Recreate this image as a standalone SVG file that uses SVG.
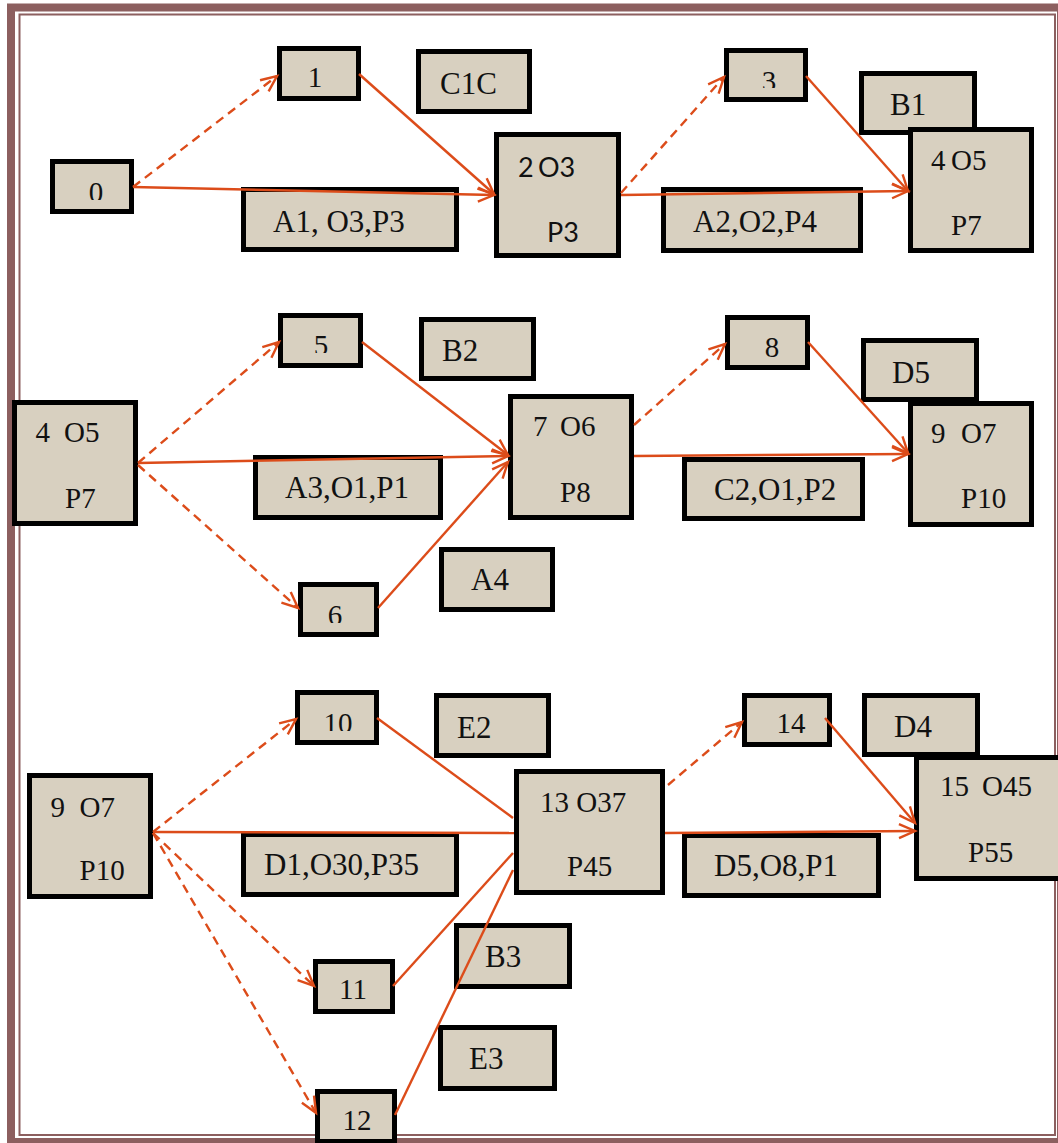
<svg xmlns="http://www.w3.org/2000/svg" width="1058" height="1143" viewBox="0 0 1058 1143">
<style>
.box{fill:#D8D0C0;stroke:#000;stroke-width:5}
.t{font-family:"Liberation Serif","Times New Roman",serif;fill:#111}
.n{font-size:29px}
.l{font-size:31px}
.s{font-family:Lato,"Open Sans","Liberation Sans",sans-serif;font-size:27px;fill:#111}
.c{fill:none;stroke:#DC4C1A;stroke-width:2.4}
.d{stroke-dasharray:9 6}
.a{marker-end:url(#ah)}
.frame{fill:none;stroke:#8C5F5F}
</style>
<defs>
<marker id="ah" viewBox="-18 -10 20 20" markerWidth="20" markerHeight="20" refX="0" refY="0" orient="auto" markerUnits="userSpaceOnUse" overflow="visible">
<path d="M-16,-7 L0,0 L-16,7" fill="none" stroke="#DC4C1A" stroke-width="2.4"/>
</marker>
<clipPath id="c0"><rect x="55" y="164" width="74" height="36"/></clipPath>
<clipPath id="c3"><rect x="729" y="53" width="74" height="35"/></clipPath>
<clipPath id="c5"><rect x="283" y="318" width="75" height="35"/></clipPath>
<clipPath id="c6"><rect x="303" y="587" width="71" height="36"/></clipPath>
<clipPath id="c10"><rect x="300" y="695" width="74" height="36"/></clipPath>
</defs>
<rect width="1058" height="1143" fill="#fff"/>
<g id="frame">
<rect class="frame" x="11" y="7.5" width="1050" height="1134.5" stroke-width="8"/>
<rect class="frame" x="19.5" y="14.5" width="1035.5" height="1120.5" stroke-width="2"/>
</g>
<g id="labels">
<g id="lbl-C1C"><rect class="box" x="418.5" y="51.5" width="111" height="60"/><text class="t l" x="440" y="94">C1C</text></g>
<g id="lbl-A1"><rect class="box" x="243.5" y="189.5" width="213" height="60"/><text class="t l" x="273" y="232">A1, O3,P3</text></g>
<g id="lbl-B1"><rect class="box" x="861.5" y="73.5" width="113" height="59"/><text class="t l" x="890" y="115">B1</text></g>
<g id="lbl-A2"><rect class="box" x="663.5" y="189.5" width="197" height="61"/><text class="t l" x="693" y="232">A2,O2,P4</text></g>
<g id="lbl-B2"><rect class="box" x="421.5" y="319.5" width="112" height="59"/><text class="t l" x="442" y="361">B2</text></g>
<g id="lbl-A3"><rect class="box" x="255.5" y="457.5" width="185" height="60"/><text class="t l" x="285" y="498">A3,O1,P1</text></g>
<g id="lbl-A4"><rect class="box" x="441.5" y="549.5" width="111" height="60"/><text class="t l" x="471" y="590">A4</text></g>
<g id="lbl-D5"><rect class="box" x="863.5" y="340.5" width="113" height="59"/><text class="t l" x="892" y="383">D5</text></g>
<g id="lbl-C2"><rect class="box" x="684.5" y="459.5" width="178" height="59"/><text class="t l" x="714" y="500">C2,O1,P2</text></g>
<g id="lbl-E2"><rect class="box" x="436.5" y="695.5" width="112" height="60"/><text class="t l" x="457" y="738">E2</text></g>
<g id="lbl-D1"><rect class="box" x="243.5" y="834.5" width="213" height="60"/><text class="t l" x="264" y="875">D1,O30,P35</text></g>
<g id="lbl-B3"><rect class="box" x="456.5" y="925.5" width="113" height="61"/><text class="t l" x="485" y="967">B3</text></g>
<g id="lbl-E3"><rect class="box" x="440.5" y="1027.5" width="114" height="61"/><text class="t l" x="469" y="1069">E3</text></g>
<g id="lbl-D4"><rect class="box" x="864.5" y="695.5" width="113" height="59"/><text class="t l" x="894" y="737">D4</text></g>
<g id="lbl-D5b"><rect class="box" x="684.5" y="835.5" width="194" height="60"/><text class="t l" x="714" y="876">D5,O8,P1</text></g>
</g>
<g id="nodes">
<g id="n0"><rect class="box" x="52.5" y="161.5" width="79" height="50"/><text class="t n" x="96" y="202" text-anchor="middle" clip-path="url(#c0)">0</text></g>
<g id="n1"><rect class="box" x="279.5" y="48.5" width="79" height="50"/><text class="t n" x="315" y="87" text-anchor="middle">1</text></g>
<g id="n2"><rect class="box" x="496.5" y="134.5" width="122" height="121"/><text class="s" y="177"><tspan x="518">2</tspan><tspan x="538">O3</tspan></text><text class="s" x="547" y="242">P3</text></g>
<g id="n3"><rect class="box" x="726.5" y="50.5" width="79" height="49"/><text class="t n" x="769" y="91" text-anchor="middle" clip-path="url(#c3)">3</text></g>
<g id="n4"><rect class="box" x="910.5" y="129.5" width="121" height="121"/><text class="t n" y="170"><tspan x="931">4</tspan><tspan x="951">O5</tspan></text><text class="t n" x="951" y="235">P7</text></g>
<g id="n4b"><rect class="box" x="14.5" y="402.5" width="121" height="121"/><text class="t n" y="442"><tspan x="35.5">4</tspan><tspan x="64">O5</tspan></text><text class="t n" x="65" y="508">P7</text></g>
<g id="n5"><rect class="box" x="280.5" y="315.5" width="80" height="50"/><text class="t n" x="321" y="355" text-anchor="middle" clip-path="url(#c5)">5</text></g>
<g id="n6"><rect class="box" x="300.5" y="584.5" width="76" height="50"/><text class="t n" x="335" y="625" text-anchor="middle" clip-path="url(#c6)">6</text></g>
<g id="n7"><rect class="box" x="510.5" y="396.5" width="121" height="121"/><text class="t n" y="436"><tspan x="533">7</tspan><tspan x="560">O6</tspan></text><text class="t n" x="560" y="502">P8</text></g>
<g id="n8"><rect class="box" x="727.5" y="317.5" width="80" height="50"/><text class="t n" x="772" y="357" text-anchor="middle">8</text></g>
<g id="n9"><rect class="box" x="910.5" y="403.5" width="121" height="121"/><text class="t n" y="443"><tspan x="931">9</tspan><tspan x="961">O7</tspan></text><text class="t n" x="961" y="508">P10</text></g>
<g id="n9b"><rect class="box" x="29.5" y="775.5" width="121" height="121"/><text class="t n" y="817"><tspan x="50.5">9</tspan><tspan x="79.5">O7</tspan></text><text class="t n" x="79.5" y="880">P10</text></g>
<g id="n10"><rect class="box" x="297.5" y="692.5" width="79" height="50"/><text class="t n" x="338" y="733" text-anchor="middle" clip-path="url(#c10)">10</text></g>
<g id="n11"><rect class="box" x="315.5" y="961.5" width="77" height="50"/><text class="t n" x="353" y="999" text-anchor="middle">11</text></g>
<g id="n12"><rect class="box" x="317.5" y="1091.5" width="77" height="50"/><text class="t n" x="357" y="1130" text-anchor="middle">12</text></g>
<g id="n13"><rect class="box" x="516.5" y="771.5" width="146" height="121"/><text class="t n" x="540" y="812">13 O37</text><text class="t n" x="567" y="876">P45</text></g>
<g id="n14"><rect class="box" x="744.5" y="695.5" width="85" height="49"/><text class="t n" x="791" y="733" text-anchor="middle">14</text></g>
<g id="n15"><rect class="box" x="916.5" y="757.5" width="147" height="121"/><text class="t n" y="796"><tspan x="940">15</tspan><tspan x="982">O45</tspan></text><text class="t n" x="968" y="862">P55</text></g>
</g>
<g id="connectors">
<path class="c d a" d="M133,187 L277,76"/>
<path class="c a" d="M133,187 L494,195"/>
<path class="c a" d="M359,74 L494,194"/>
<path class="c d a" d="M621,193 L724,77"/>
<path class="c a" d="M621,195 L908,191"/>
<path class="c a" d="M806,76 L908,191"/>
<path class="c d a" d="M138,463 L279,342"/>
<path class="c d a" d="M138,465 L298,608"/>
<path class="c a" d="M138,463 L508,456"/>
<path class="c a" d="M362,342 L508,455"/>
<path class="c a" d="M378,608 L508,462"/>
<path class="c d a" d="M634,425 L725,344"/>
<path class="c a" d="M634,456 L908,454"/>
<path class="c a" d="M808,342 L908,453"/>
<path class="c d a" d="M153,832 L296,719"/>
<path class="c d a" d="M153,833 L314,986"/>
<path class="c d a" d="M153,833 L316,1113"/>
<path class="c" d="M153,832 L514,833"/>
<path class="c" d="M377,718 L513,818"/>
<path class="c" d="M393,986 L513,853"/>
<path class="c" d="M395,1115 L513,870"/>
<path class="c d a" d="M668,785 L742,722"/>
<path class="c a" d="M665,833 L915,831"/>
<path class="c a" d="M825,718 L915,823"/>
</g>
</svg>
